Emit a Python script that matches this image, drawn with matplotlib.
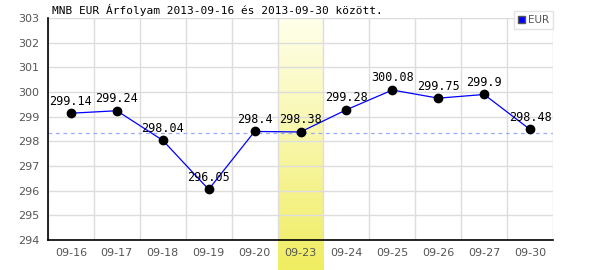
import matplotlib
matplotlib.use("Agg")
import matplotlib.pyplot as plt
from matplotlib.patches import Patch
import numpy as np

dates = ["09-16", "09-17", "09-18", "09-19", "09-20", "09-23",
         "09-24", "09-25", "09-26", "09-27", "09-30"]
rates = [299.14, 299.24, 298.04, 296.05, 298.4, 298.38,
         299.28, 300.08, 299.75, 299.9, 298.48]
labels = ["299.14", "299.24", "298.04", "296.05", "298.4", "298.38",
          "299.28", "300.08", "299.75", "299.9", "298.48"]
avg_line = 298.35
highlight = "09-23"

fig = plt.figure(figsize=(6, 2.7), dpi=100)
ax = fig.add_axes([48 / 600, 1 - 240 / 270, 505 / 600, 222 / 270])

x = np.arange(len(dates))
ax.set_xlim(-0.5, len(dates) - 0.5)
ax.set_ylim(294, 303)

# yellow gradient column, runs below the axis too
hi = dates.index(highlight)
grad = np.linspace(0, 1, 100).reshape(-1, 1)
top = np.array([1.0, 1.0, 0.92])
bot = np.array([0.94, 0.93, 0.38])
img = top + grad[..., None] * (bot - top)
ax.imshow(img, extent=[hi - 0.5, hi + 0.5, 292.78, 303], aspect="auto",
          zorder=0, clip_on=False, interpolation="bilinear")

for i in range(len(dates) + 1):
    ax.axvline(i - 0.5, color="#dddddd", lw=1, zorder=1)
for v in range(294, 304):
    ax.axhline(v, color="#dddddd", lw=1, zorder=1)

ax.axhline(avg_line, color="#99aaff", lw=0.9, ls=(0, (3, 3)), zorder=2)
ax.plot(x, rates, color="blue", lw=0.9, zorder=3)
ax.plot(x, rates, "o", color="black", ms=6, zorder=4)
for xi, yi, t in zip(x, rates, labels):
    ax.annotate(t, (xi, yi), xytext=(0, 4), textcoords="offset points",
                ha="center", va="bottom", fontsize=8.5,
                family="DejaVu Sans Mono", zorder=5)

for s in ["top", "right"]:
    ax.spines[s].set_visible(False)
ax.spines["left"].set_linewidth(1.2)
ax.spines["bottom"].set_linewidth(1.2)
ax.set_xticks(x)
ax.set_xticklabels(dates)
ax.set_yticks(range(294, 304))
ax.tick_params(length=0, labelsize=8, labelcolor="#555555", pad=6)

fig.text(52 / 600, 1 - 10 / 270, "MNB EUR Árfolyam 2013-09-16 és 2013-09-30 között.",
         fontsize=8, family="DejaVu Sans Mono", va="center")

handle = Patch(facecolor="blue", edgecolor="#555555", linewidth=1, label="EUR")
leg = ax.legend(handles=[handle], loc="upper right",
                bbox_to_anchor=(553 / 600, 1 - 11 / 270),
                bbox_transform=fig.transFigure, fontsize=7.5, frameon=True,
                fancybox=False, handlelength=0.6, handleheight=0.6,
                handletextpad=0.3, borderpad=0.4, borderaxespad=0,
                labelcolor="#555555")
leg.get_frame().set_edgecolor("#dddddd")
leg.get_frame().set_linewidth(1)

fig.savefig("out.png", dpi=100)
